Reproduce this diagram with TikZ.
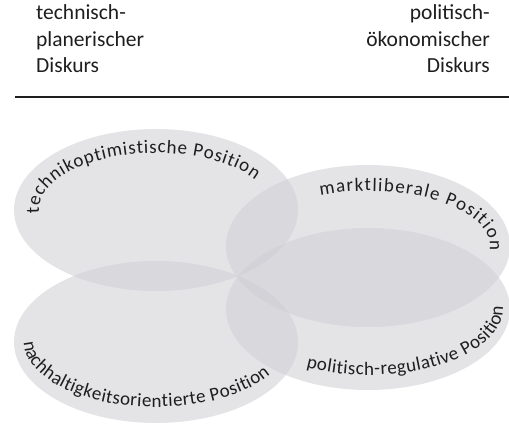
\documentclass[tikz,border=0pt]{standalone}
\usepackage{fontspec}
\setmainfont{Carlito}
\usepackage{tikz}
\usetikzlibrary{shapes.geometric, decorations.text, positioning}
\usepackage{xcolor}
\definecolor{lagegray}{RGB}{206, 206, 212}
\definecolor{inkgray}{RGB}{30, 30, 30}

\begin{document}
\begin{tikzpicture}[x=1pt, y=1pt,
    lage/.style={ellipse, fill=lagegray, fill opacity=0.55, inner sep=0pt, minimum width=284pt, minimum height=162pt},
    diskurs/.style={inner sep=0pt, font=\fontsize{21.5}{26.5}\selectfont, text=inkgray},
    arclabel/.style={decorate, decoration={text along path, text color=inkgray, text align=fit to path}}
]
    \useasboundingbox (0,0) rectangle (509,426);

    % Header
    \node[diskurs, anchor=base west, align=left] (techdisk) at (36,353) {technisch-\\planerischer\\Diskurs};
    \node[diskurs, anchor=base east, align=right] (polidisk) at (490,353) {politisch-\\ökonomischer\\Diskurs};
    \coordinate (ruleL) at (15,329);
    \coordinate (ruleR) at (509,329);
    \draw[line width=1.1pt, inkgray] (ruleL) -- (ruleR);

    % Ellipses
    \node[lage] (technik) at (156,216) {};
    \node[lage] (markt) at (368,180) {};
    \node[lage] (nachhalt) at (156,84) {};
    \node[lage] (regulativ) at (368,117) {};

    % Labels
    \path[arclabel, decoration={text={|\fontsize{19}{21}\selectfont|technikoptimistische Position}}]
        (technik.center) ++(184:117 and 57) arc[start angle=184, end angle=32, x radius=117, y radius=57];
    \path[arclabel, decoration={text={|\fontsize{19}{21}\selectfont|marktliberale Position}}]
        (markt.center) ++(113:122 and 55) arc[start angle=113, end angle=-5, x radius=122, y radius=55];
    \path[arclabel, decoration={text={|\fontsize{19}{21}\selectfont|nachhaltigkeitsorientierte Position}}]
        (nachhalt.center) ++(180:132 and 65) arc[start angle=180, end angle=330, x radius=132, y radius=65];
    \path[arclabel, decoration={text={|\fontsize{19}{21}\selectfont|politisch-regulative Position}}]
        (regulativ.center) ++(242:132 and 66) arc[start angle=242, end angle=362, x radius=134, y radius=66];

\end{tikzpicture}
\end{document}
